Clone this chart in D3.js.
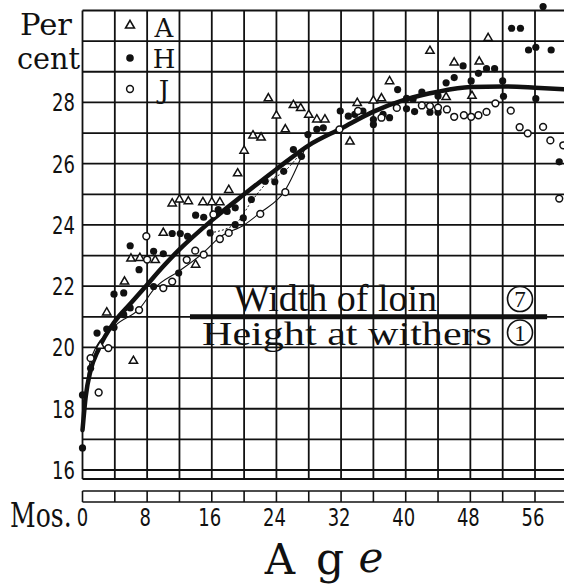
<!DOCTYPE html>
<html><head><meta charset="utf-8">
<script src="https://cdn.jsdelivr.net/npm/d3@7"></script>
<style>html,body{margin:0;padding:0;background:#fff;} svg{display:block;}</style>
</head><body><svg id="c" width="564" height="584"></svg>
<script>
// ---- data (age in months, percent) ----
const seriesNames = ["A", "H", "J"];
const aAges   = [2.2, 3, 5.2, 6, 6.3, 7.1, 9, 10, 11.1, 12, 13.1, 14, 14.9, 16, 17, 18.1, 19.2, 20, 21.1, 22.1, 23, 24, 25.1, 26.1, 27, 28, 29, 30, 33.1, 34, 36, 37, 38, 43, 45, 46, 48.2, 49.1, 50.2];
const aValues = [20.05, 21.14, 22.15, 22.9, 19.56, 22.92, 22.85, 23.74, 24.7, 24.83, 24.77, 22.7, 24.74, 24.74, 24.74, 25.14, 25.68, 26.42, 26.92, 26.85, 28.13, 27.57, 27.12, 27.91, 27.81, 27.59, 27.44, 27.44, 26.72, 27.98, 28.06, 28.13, 28.69, 29.68, 28.17, 29.3, 28.21, 29.33, 30.1];

const hAges   = [0, 0, 1, 1.8, 3, 3.9, 3.9, 5.1, 5.1, 5.9, 5.9, 7, 8.8, 8.8, 10, 11.1, 11.9, 12.1, 13, 14, 15, 15.8, 16.8, 17.9, 18.9, 18.9, 19.9, 20.9, 22.6, 23.8, 24.9, 26.1, 27.1, 27.9, 29, 29.8, 31.9, 32.9, 33.7, 34.7, 36, 36, 37.2, 38, 39, 40.1, 40.1, 41.1, 40.9, 42, 43, 44, 44, 45, 46, 47.1, 48.1, 49, 50, 51, 52, 52.1, 53.1, 54.2, 55.2, 56.1, 56.1, 57, 58, 59];
const hValues = [16.72, 18.45, 19.32, 20.47, 20.6, 20.65, 21.74, 21.78, 21.07, 23.32, 21.29, 22.54, 21.99, 23.14, 23.06, 23.72, 22.43, 23.72, 23.63, 24.32, 24.25, 23.74, 24.5, 24.44, 24.56, 24.01, 24.23, 24.83, 25.43, 25.41, 25.75, 26.46, 26.24, 26.95, 27.12, 27.17, 27.72, 27.55, 27.61, 27.72, 27.44, 27.28, 27.61, 27.5, 28.42, 27.79, 28.13, 27.7, 28.1, 28.34, 27.68, 27.68, 28.21, 28.64, 28.81, 29.19, 28.7, 28.95, 29.1, 29.1, 28.7, 28.2, 30.42, 30.42, 29.71, 29.8, 28.12, 31.13, 29.71, 26.06];

const jAges   = [1, 2, 3.2, 7, 7.9, 8, 10, 11.1, 12.9, 13.95, 15, 16.2, 17, 18.1, 22, 25.1, 31.8, 34.1, 37, 38.9, 42, 43, 44, 45.1, 46, 47.2, 48.1, 49, 50, 51.1, 53, 54.1, 55.1, 57, 57.9, 59, 59.5];
const jValues = [19.65, 18.53, 19.98, 21.22, 23.63, 22.87, 21.94, 22.15, 22.86, 23.16, 23.03, 24.34, 23.54, 23.74, 24.36, 25.07, 27.12, 27.72, 27.5, 27.82, 27.9, 27.88, 27.83, 27.77, 27.53, 27.58, 27.53, 27.58, 27.69, 27.97, 27.73, 27.19, 26.99, 27.2, 26.76, 24.86, 26.6];

// fitted curve
const fitAges   = [0, 0.4, 1, 2, 4, 6, 8, 10, 12, 16, 20, 24, 28, 32, 36, 40, 44, 48, 52, 56, 60];
const fitValues = [17.3, 18.4, 19.25, 19.95, 20.85, 21.45, 22.05, 22.65, 23.2, 24.15, 25.0, 25.82, 26.6, 27.15, 27.7, 28.1, 28.35, 28.5, 28.52, 28.48, 28.42];

// thin trend lines through early points
const jTrendAges   = [0, 1, 4, 7, 9, 12, 15, 17, 20, 22, 25, 27.7];
const jTrendValues = [17.3, 19.6, 20.7, 21.25, 21.95, 22.5, 23.1, 23.6, 24.0, 24.4, 25.1, 26.6];
const hTrendAges   = [15.8, 19, 21, 23, 25, 27.7];
const hTrendValues = [23.74, 24.05, 24.8, 25.42, 25.75, 26.6];

const yTickValues = [16, 18, 20, 22, 24, 26, 28];
const xTickValues = [0, 8, 16, 24, 32, 40, 48, 56];
const xTickLabels = ["0", "8", "16", "24", "32", "40", "48", "56"];

// ---- drawing ----
const svg = d3.select("#c");
const W = 564;
const x = d3.scaleLinear().domain([0, 56]).range([82.5, 535]);
const y = d3.scaleLinear().domain([16, 31]).range([470, 10.5]);
const bottomY = 479;
const INK = "#111";

const g = svg.append("g");

// grid horizontals
g.selectAll("line.h").data(d3.range(16, 32)).join("line")
  .attr("x1", x(0)).attr("x2", W).attr("y1", d => y(d)).attr("y2", d => y(d))
  .attr("stroke", INK).attr("stroke-width", 1.8);
// grid verticals
g.selectAll("line.v").data(d3.range(0, 61, 4)).join("line")
  .attr("x1", d => x(d)).attr("x2", d => x(d)).attr("y1", y(31)).attr("y2", bottomY)
  .attr("stroke", INK).attr("stroke-width", 1.8);
// bottom broken border
g.append("line").attr("x1", x(0)).attr("x2", W).attr("y1", bottomY).attr("y2", bottomY)
  .attr("stroke", INK).attr("stroke-width", 1.8);
// lower strip
[491, 502].forEach(yy => g.append("line").attr("x1", x(0)).attr("x2", W).attr("y1", yy).attr("y2", yy)
  .attr("stroke", INK).attr("stroke-width", 1.6));
g.selectAll("line.s").data(d3.range(0, 61, 4)).join("line")
  .attr("x1", d => x(d)).attr("x2", d => x(d)).attr("y1", 491).attr("y2", 502)
  .attr("stroke", INK).attr("stroke-width", 1.6);

// thin trend lines
const lineGen = d3.line().x(d => x(d[0])).y(d => y(d[1])).curve(d3.curveMonotoneX);
svg.append("path").datum(d3.zip(jTrendAges, jTrendValues)).attr("d", lineGen)
  .attr("fill", "none").attr("stroke", INK).attr("stroke-width", 1.1);
svg.append("path").datum(d3.zip(hTrendAges, hTrendValues)).attr("d", lineGen)
  .attr("fill", "none").attr("stroke", INK).attr("stroke-width", 1).attr("stroke-dasharray", "2,2");

// fitted curve
svg.append("path").datum(d3.zip(fitAges, fitValues)).attr("d", lineGen)
  .attr("fill", "none").attr("stroke", INK).attr("stroke-width", 4.5).attr("stroke-linecap", "round");

// points
const tri = d3.symbol().type(d3.symbolTriangle).size(30)();
svg.append("g").selectAll("path").data(d3.zip(aAges, aValues)).join("path")
  .attr("d", tri).attr("transform", d => `translate(${x(d[0])},${y(d[1])})`)
  .attr("fill", "#fff").attr("stroke", INK).attr("stroke-width", 1.5);
svg.append("g").selectAll("circle").data(d3.zip(hAges, hValues)).join("circle")
  .attr("cx", d => x(d[0])).attr("cy", d => y(d[1])).attr("r", 3.6).attr("fill", INK);
svg.append("g").selectAll("circle").data(d3.zip(jAges, jValues)).join("circle")
  .attr("cx", d => x(d[0])).attr("cy", d => y(d[1])).attr("r", 3.4)
  .attr("fill", "#fff").attr("stroke", INK).attr("stroke-width", 1.5);

// legend
const lx = 130;
const legY = [25.5, 58, 89];
svg.append("path").attr("d", d3.symbol().type(d3.symbolTriangle).size(34)())
  .attr("transform", `translate(${lx},${legY[0]})`).attr("fill", "#fff").attr("stroke", INK).attr("stroke-width", 1.6);
svg.append("circle").attr("cx", lx).attr("cy", legY[1]).attr("r", 3.8).attr("fill", INK);
svg.append("circle").attr("cx", lx).attr("cy", legY[2]).attr("r", 3.4).attr("fill", "#fff").attr("stroke", INK).attr("stroke-width", 1.5);
const legBase = [37, 68, 98.5];
seriesNames.forEach((s, i) => {
  svg.append("text").attr("x", 164).attr("y", legBase[i]).attr("text-anchor", "middle")
    .attr("font-family", "DejaVu Serif").attr("font-size", 26).attr("fill", INK).text(s);
});

function label(str, px, py, size, family, len, anchor) {
  const t = svg.append("text").attr("x", px).attr("y", py)
    .attr("font-family", family).attr("font-size", size).attr("fill", INK)
    .attr("text-anchor", anchor || "start").text(str);
  if (len) t.attr("textLength", len).attr("lengthAdjust", "spacingAndGlyphs");
  return t;
}

// y axis title
label("Per", 20, 35, 29, "DejaVu Serif", 52);
label("cent", 17, 69, 29, "DejaVu Serif", 63);

// y tick labels
svg.append("g").selectAll("text").data(yTickValues).join("text")
  .attr("transform", d => `translate(75,${y(d) + 9}) scale(0.72,1)`)
  .attr("text-anchor", "end").attr("font-family", "DejaVu Sans").attr("font-size", 25)
  .attr("fill", INK).text(d => d);

// x tick labels
svg.append("g").selectAll("text").data(d3.zip(xTickValues, xTickLabels)).join("text")
  .attr("transform", d => `translate(${x(d[0]) - (d[0] === 0 ? 0 : 2)},526) scale(0.75,1)`)
  .attr("text-anchor", "middle").attr("font-family", "DejaVu Sans").attr("font-size", 24)
  .attr("fill", INK).text(d => d[1]);
svg.append("text").attr("transform", "translate(10,527) scale(0.76,1)")
  .attr("font-family", "DejaVu Serif").attr("font-size", 33).attr("fill", INK).text("Mos.");

// x axis title
label("A", 280, 574, 42, "DejaVu Serif", null, "middle");
label("g", 330, 574, 44, "DejaVu Serif", null, "middle");
label("e", 371, 572, 42, "DejaVu Serif", null, "middle").attr("font-style", "italic");

// annotation
svg.append("line").attr("x1", x(13.3)).attr("x2", x(57.5)).attr("y1", y(21)).attr("y2", y(21))
  .attr("stroke", INK).attr("stroke-width", 5);
label("Width of loin", 234, 311, 38, "Liberation Serif", 203);
label("Height at withers", 202, 345, 33, "Liberation Serif", 290);
[[520, 299, "7"], [520, 332.5, "1"]].forEach(([cx, cy, n]) => {
  svg.append("circle").attr("cx", cx).attr("cy", cy).attr("r", 12.5)
    .attr("fill", "#fff").attr("stroke", INK).attr("stroke-width", 1.6);
  svg.append("text").attr("x", cx).attr("y", cy + 8).attr("text-anchor", "middle")
    .attr("font-family", "Liberation Serif").attr("font-size", 23).attr("fill", INK).text(n);
});
</script></body></html>
